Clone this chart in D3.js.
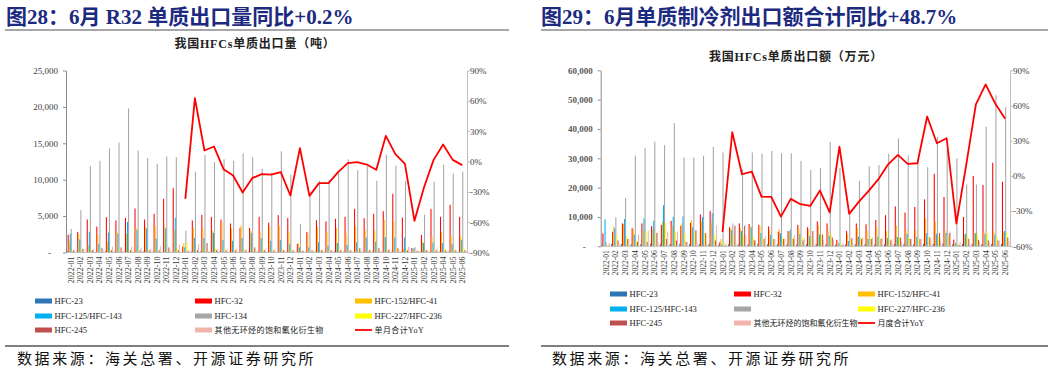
<!DOCTYPE html>
<html>
<head>
<meta charset="utf-8">
<script src="https://cdn.jsdelivr.net/npm/d3@7"></script>
<style>
  body { margin: 0; background: #fff; }
  svg text { font-family: "Times New Roman", "Liberation Serif", "Noto Sans CJK SC", serif; }
</style>
</head>
<body>
<svg id="chart" width="1057" height="372"></svg>
<script>
// Months on the category axis
const months = [
  '2022-01','2022-02','2022-03','2022-04','2022-05','2022-06','2022-07','2022-08','2022-09','2022-10','2022-11','2022-12',
  '2023-01','2023-02','2023-03','2023-04','2023-05','2023-06','2023-07','2023-08','2023-09','2023-10','2023-11','2023-12',
  '2024-01','2024-02','2024-03','2024-04','2024-05','2024-06','2024-07','2024-08','2024-09','2024-10','2024-11','2024-12',
  '2025-01','2025-02','2025-03','2025-04','2025-05','2025-06'
];

const seriesNames = ['HFC-23', 'HFC-32', 'HFC-152/HFC-41', 'HFC-125/HFC-143', 'HFC-134', 'HFC-227/HFC-236', 'HFC-245', '其他无环烃的饱和氟化衍生物'];
const seriesColors = ['#2e75b6', '#ff0000', '#ffc000', '#00b0f0', '#a6a6a6', '#ffff00', '#c0504d', '#f2b3ab'];
const yoyColor = '#ff0000';

// Export volume (tonnes)
const qty23 = [150,120,100,100,150,150,120,100,150,120,100,100, 60,120,150,120,150,120,100,120,150,120,100,120, 60,100,120,120,150,120,100,120,150,120,100,120, 50,100,120,120,150,120];
const qty32 = [2430,2840,4530,3570,4850,4400,4760,6040,4530,5310,7370,8840, 820,4400,5170,4900,4530,3980,3390,3390,4900,4100,5130,4720, 1190,2840,4440,4260,4620,4900,6000,4720,5310,5680,8060,4800, 600,2430,6000,4900,6550,4900];
const qty152 = [1500,2500,1000,2500,1500,2900,2600,3400,3500,3700,3500,3100, 1300,3400,3200,3000,4100,3300,3700,3000,2900,3600,3600,2900, 1300,2600,3500,2900,3400,2650,3600,3000,3000,4500,4200,500, 300,1500,2200,2800,2300,2200];
const qty125 = [2600,1800,2850,1200,2750,2600,4200,3100,3300,1900,3300,4800, 700,2000,2000,2700,1700,1600,2000,2700,1950,1600,1740,1200, 700,700,1400,900,1300,1050,1400,2050,1460,2100,2050,2050, 600,1300,1370,1300,1150,1740];
const qty134 = [3250,5800,11900,12600,14300,15100,19800,14000,13000,12200,13200,13100, 3000,11100,13400,12400,12800,12600,13600,13100,11500,11000,13900,10700, 3950,7700,9850,10000,10900,12800,11300,11850,9850,13450,11950,9850, 730,5200,9750,12050,10850,11100];
const qty227 = [200,400,300,300,400,400,300,300,400,300,300,500, 1300,300,400,500,400,300,400,300,400,300,400,300, 200,300,300,300,300,300,300,300,300,300,600,300, 200,300,400,500,400,600];
const qty245 = [300,500,300,600,300,700,300,300,300,300,700,300, 200,300,1300,300,300,300,300,700,300,300,300,300, 200,300,300,300,300,300,600,300,600,300,600,300, 200,300,300,300,300,300];
const qtyOther = [300,400,500,300,800,300,800,700,500,900,400,1100, 300,1200,300,500,500,500,400,500,500,400,300,300, 300,300,400,300,300,300,300,300,300,500,300,800, 300,300,500,300,300,300];
// Monthly total YoY (%)
const qtyYoY = [null,null,null,null,null,null,null,null,null,null,null,null,
  -37,62.6,10.9,14.8,-7.6,-13.8,-30.7,-16.5,-12.5,-13,-10.5,-33.6,
  13.2,-34,-21.4,-21.4,-10.5,-1.6,-0.7,-3,-8.2,25.4,7.3,-2.3,
  -58.7,-25.4,1.6,16.8,1.6,-3.6];

// Export value (10k CNY)
const val23 = [500,800,800,700,800,900,800,800,900,800,800,800, 600,700,700,700,800,700,700,700,700,700,800,700, 600,600,700,700,700,700,800,800,700,800,800,900, 700,800,800,800,800,800];
const val32 = [4400,5000,7800,6200,7800,6900,7300,8700,7000,8000,10900,12000, 1400,6500,7800,7600,7300,6800,5000,5200,7300,6500,8500,7800, 2200,5200,7800,7500,9000,10600,13600,11500,13400,16000,24700,16800, 2300,10000,24000,20900,28500,22000];
const val152 = [300,6800,7500,5800,5500,6000,8500,7000,7800,8800,8500,8000, 2500,6200,6200,6800,7100,5500,5800,5000,6000,5800,7200,5300, 1500,4000,6300,5200,6500,5300,7000,5300,5300,9500,8400,5200, 900,4100,4600,5100,5100,4800];
const val125 = [9200,6100,9300,4000,9500,8700,14000,10000,10200,6500,10000,11300, 600,5500,5200,6500,4500,4000,4500,5700,4200,3500,4000,3600, 1000,1800,3300,2500,3200,2800,3200,4200,3200,4500,4300,4600, 1200,4300,4400,4100,4000,5200];
const val134 = [1400,9900,16500,30900,33600,35700,34500,42000,30300,30300,30900,33900, 32000,7800,26200,32000,31600,32500,31700,31700,29100,26000,26700,35600, 26700,11100,22300,27300,27700,31500,36800,30900,28500,27000,37300,33000, 30000,21100,21100,40800,51500,47500];
const val227 = [200,4000,3500,2000,5000,4000,8000,5000,4500,5000,4500,4000, 1500,3500,3600,3000,2800,2500,3000,3000,3500,3000,4000,4000, 800,2200,3000,3000,2800,2500,3000,2800,2500,3300,3500,3500, 700,3200,4000,4300,3300,4800];
const val245 = [200,2000,2500,1500,1500,4600,2500,2000,1500,5500,4500,2000, 300,7000,7000,2000,2500,2500,2500,2500,2000,5200,4000,3000, 500,2800,2500,2500,2500,2000,3000,2500,2500,3000,4500,4500, 500,2500,2200,2000,2000,3000];
const valOther = [1200,1000,2500,4000,5300,1500,5000,5000,1500,1500,1500,7000, 1000,1000,4000,2000,3500,2200,2500,3800,2800,1500,2200,2200, 1000,1000,3000,3000,3000,2500,1500,2500,2500,2000,2000,5000, 1500,1000,1500,1500,2000,1800];
const valYoY = [null,null,null,null,null,null,null,null,null,null,null,null,
  -47.8,37.2,1.4,3.7,-17.6,-17.9,-34.7,-19.6,-24.1,-25.6,-12.5,-31,
  25,-32.4,-21.9,-12.8,-2.8,9.9,17.9,10.2,10.8,50.6,27.8,32.1,
  -40.6,9,61,78,61.4,48.7];

// Axis ticks
const qtyTicks = [0, 5000, 10000, 15000, 20000, 25000];
const qtyYoYTicks = [-90, -60, -30, 0, 30, 60, 90];
const valTicks = [0, 10000, 20000, 30000, 40000, 50000, 60000];
const valYoYTicks = [-60, -30, 0, 30, 60, 90];

const svg = d3.select('#chart');
const axisGray = '#8c8c8c';
const hasCJK = (s) => /[\u4e00-\u9fff]/.test(s);

// Draws one panel: bars, YoY line, axes and legend
function drawPanel(p) {
  const g = svg.append('g');
  const x = d3.scaleBand().domain(months).range([p.left, p.right]);
  const xs = d3.scaleBand().domain(d3.range(seriesNames.length)).range([0, x.bandwidth()]).paddingOuter(0.6);
  const y = d3.scaleLinear().domain([0, p.yMax]).range([p.bottom, p.top]);
  const y2 = d3.scaleLinear().domain([p.yoyTicks[0], p.yoyTicks[p.yoyTicks.length - 1]]).range([p.bottom, p.top]);

  // Bars
  p.series.forEach((vals, si) => {
    g.append('g')
      .selectAll('rect')
      .data(vals)
      .enter()
      .append('rect')
      .attr('x', (d, i) => x(months[i]) + xs(si))
      .attr('y', (d) => y(d))
      .attr('width', xs.bandwidth())
      .attr('height', (d) => p.bottom - y(d))
      .attr('fill', seriesColors[si]);
  });

  // Base line
  g.append('line')
    .attr('x1', p.left).attr('x2', p.right)
    .attr('y1', p.bottom).attr('y2', p.bottom)
    .attr('stroke', '#bfbfbf').attr('stroke-width', 1);

  // Left axis
  const la = g.append('g')
    .attr('transform', `translate(${p.left},0)`)
    .call(d3.axisLeft(y).tickValues(p.yTicks).tickSizeInner(3).tickSizeOuter(0)
      .tickFormat((d) => (d === 0 ? '-' : d3.format(',')(d))));
  la.select('.domain').attr('stroke', axisGray);
  la.selectAll('.tick line').attr('stroke', axisGray);
  la.selectAll('.tick text')
    .attr('font-size', '9px').attr('fill', p.tickColor).attr('font-weight', p.tickWeight)
    .attr('x', (d) => (d === 0 ? -15 : -8));

  // Right axis
  const ra = g.append('g')
    .attr('transform', `translate(${p.right},0)`)
    .call(d3.axisRight(y2).tickValues(p.yoyTicks).tickSizeInner(3).tickSizeOuter(0)
      .tickFormat((d) => d + '%'));
  ra.select('.domain').attr('stroke', '#bfbfbf');
  ra.selectAll('.tick line').attr('stroke', '#bfbfbf');
  ra.selectAll('.tick text').attr('font-size', '9px').attr('fill', '#404040').attr('x', 3);

  // Category labels
  g.append('g')
    .selectAll('text')
    .data(months)
    .enter()
    .append('text')
    .attr('transform', (d) => `translate(${x(d) + x.bandwidth() / 2 + 3},${p.bottom + 4}) rotate(-90)`)
    .attr('text-anchor', 'end')
    .attr('font-size', p.xFont)
    .attr('fill', '#333')
    .text((d) => d);

  // YoY line
  const line = d3.line()
    .defined((d) => d !== null)
    .x((d, i) => x(months[i]) + x.bandwidth() / 2)
    .y((d) => y2(d));
  g.append('path')
    .datum(p.yoy)
    .attr('d', line)
    .attr('fill', 'none')
    .attr('stroke', yoyColor)
    .attr('stroke-width', 1.8)
    .attr('stroke-linejoin', 'round');

  // Legend
  const items = p.legendLabels.map((label, i) => ({ label, color: seriesColors[i], type: 'bar' }));
  items.push({ label: p.yoyLabel, color: yoyColor, type: 'line' });
  const lg = g.append('g')
    .selectAll('g')
    .data(items)
    .enter()
    .append('g')
    .attr('transform', (d, i) => `translate(${p.legendX[i % 3]},${p.legendY[Math.floor(i / 3)]})`);
  lg.filter((d) => d.type === 'bar')
    .append('rect')
    .attr('x', 0).attr('y', -2.5).attr('width', 17).attr('height', 5)
    .attr('fill', (d) => d.color);
  lg.filter((d) => d.type === 'line')
    .append('line')
    .attr('x1', 0).attr('x2', 17).attr('y1', 0).attr('y2', 0)
    .attr('stroke', (d) => d.color).attr('stroke-width', 1.8);
  lg.append('text')
    .attr('x', 19.5).attr('y', 3)
    .attr('font-size', (d) => (hasCJK(d.label) ? '8px' : '8.6px'))
    .attr('letter-spacing', (d) => (hasCJK(d.label) ? p.cjkSpacing : '0'))
    .attr('fill', '#222')
    .text((d) => d.label);

  // Chart subtitle
  g.append('text')
    .attr('x', p.subX).attr('y', p.subY)
    .attr('text-anchor', 'middle')
    .attr('font-size', '12px').attr('font-weight', 'bold').attr('fill', '#222')
    .attr('letter-spacing', '0.8px')
    .text(p.subtitle);

  // Figure title with rules and source
  g.append('text')
    .attr('x', p.titleX).attr('y', 24)
    .attr('font-size', '21px').attr('font-weight', 'bold').attr('fill', '#1c2a80')
    .text(p.title);
  g.append('line')
    .attr('x1', p.ruleX1).attr('x2', p.ruleX2).attr('y1', 30).attr('y2', 30)
    .attr('stroke', '#8a8a8a').attr('stroke-width', 1.5);
  g.append('line')
    .attr('x1', p.ruleX1).attr('x2', p.ruleX2).attr('y1', 346).attr('y2', 346)
    .attr('stroke', '#555').attr('stroke-width', 1.5);
  g.append('text')
    .attr('x', p.titleX + 11).attr('y', 364)
    .attr('font-size', '15px').attr('letter-spacing', '2.6px').attr('fill', '#111')
    .style('font-family', '"Noto Sans CJK SC", sans-serif')
    .text('数据来源：海关总署、开源证券研究所');
}

drawPanel({
  left: 66, right: 467, top: 70.5, bottom: 252.5,
  yMax: 25000, yTicks: qtyTicks, yoyTicks: qtyYoYTicks,
  series: [qty23, qty32, qty152, qty125, qty134, qty227, qty245, qtyOther],
  yoy: qtyYoY,
  legendLabels: seriesNames,
  yoyLabel: '单月合计YoY',
  legendX: [35, 195, 355], legendY: [301, 316, 330], cjkSpacing: '0.4px',
  tickColor: '#404040', tickWeight: 'normal', xFont: '8px',
  subtitle: '我国HFCs单质出口量（吨）', subX: 255, subY: 48,
  title: '图28：6月 R32 单质出口量同比+0.2%', titleX: 6,
  ruleX1: 5, ruleX2: 509,
});

drawPanel({
  left: 600.7, right: 1010, top: 70.3, bottom: 246.3,
  yMax: 60000, yTicks: valTicks, yoyTicks: valYoYTicks,
  series: [val23, val32, val152, val125, val134, val227, val245, valOther],
  yoy: valYoY,
  legendLabels: seriesNames.map((n, i) => (i === 4 ? '' : n)),
  yoyLabel: '月度合计YoY',
  legendX: [610, 734, 858], legendY: [294, 309, 323], cjkSpacing: '0',
  tickColor: '#595959', tickWeight: 'bold', xFont: '7.5px',
  subtitle: '我国HFCs单质出口额（万元）', subX: 796, subY: 61,
  title: '图29：6月单质制冷剂出口额合计同比+48.7%', titleX: 541,
  ruleX1: 541, ruleX2: 1048,
});
</script>
</body>
</html>
